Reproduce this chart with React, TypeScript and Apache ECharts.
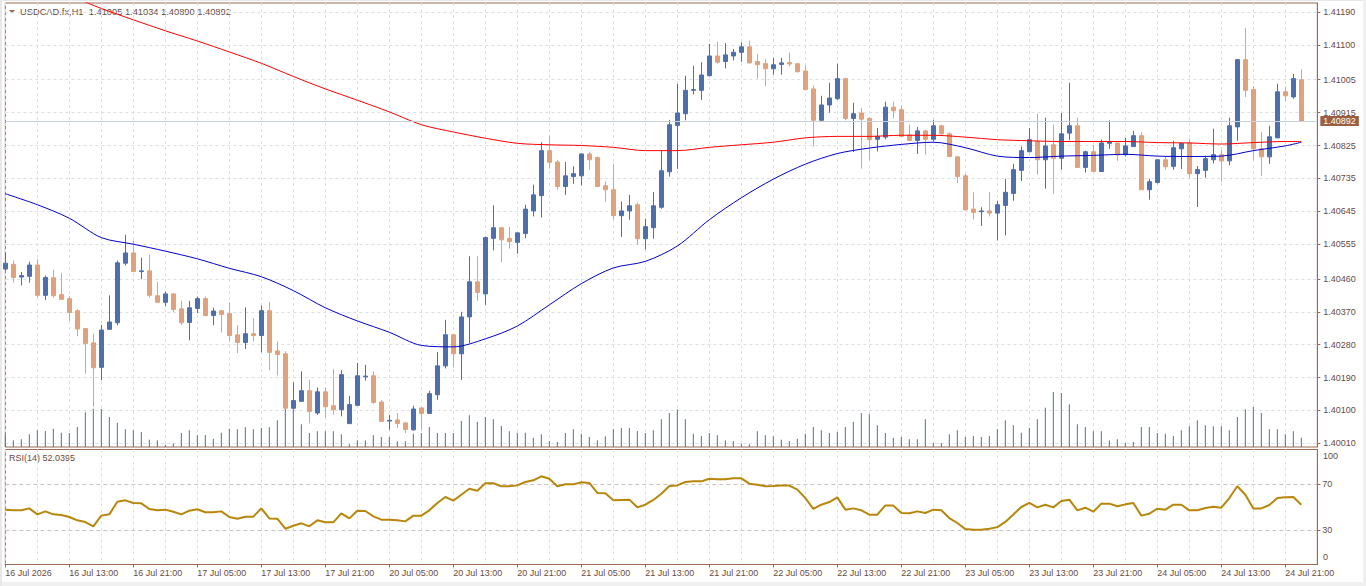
import React, { useEffect, useRef } from "react";
import * as echarts from "echarts";

// ---------- DATA ----------
const SYMBOL_TITLE = "USDCAD.fx,H1  1.41005 1.41034 1.40890 1.40892";
const RSI_TITLE = "RSI(14) 52.0395";
const BID = 1.40892;

const timeLabels = [
  "16 Jul 2026", "16 Jul 13:00", "16 Jul 21:00", "17 Jul 05:00", "17 Jul 13:00", "17 Jul 21:00",
  "20 Jul 05:00", "20 Jul 13:00", "20 Jul 21:00", "21 Jul 05:00", "21 Jul 13:00", "21 Jul 21:00",
  "22 Jul 05:00", "22 Jul 13:00", "22 Jul 21:00", "23 Jul 05:00", "23 Jul 13:00", "23 Jul 21:00",
  "24 Jul 05:00", "24 Jul 13:00", "24 Jul 21:00",
];

const priceTicks = [
  1.4001, 1.401, 1.4019, 1.4028, 1.4037, 1.4046, 1.40555, 1.40645, 1.40735, 1.40825,
  1.40915, 1.41005, 1.411, 1.4119,
];
const rsiTicks = [30, 70];

const openP = [
  1.40487, 1.405, 1.40465, 1.40467, 1.40498, 1.40415, 1.40463, 1.40417, 1.40406, 1.40373,
  1.40324, 1.40285, 1.40218, 1.40322, 1.4034, 1.40503, 1.40531, 1.4048, 1.40482, 1.40414,
  1.40396, 1.40419, 1.40378, 1.40341, 1.40379, 1.40406, 1.4036, 1.40373, 1.40365, 1.40307,
  1.40286, 1.4031, 1.40305, 1.40373, 1.40263, 1.40255, 1.40106, 1.40125, 1.40154, 1.40093,
  1.40151, 1.40113, 1.40102, 1.40064, 1.40114, 1.40192, 1.40195, 1.40123, 1.40071, 1.40074,
  1.40066, 1.40047, 1.40107, 1.40092, 1.40143, 1.40222, 1.40307, 1.40255, 1.40356, 1.40452,
  1.40419, 1.40571, 1.406, 1.40571, 1.4056, 1.40584, 1.40646, 1.40688, 1.40811, 1.4078,
  1.40713, 1.4074, 1.40742, 1.40802, 1.40792, 1.40715, 1.40704, 1.40633, 1.40646, 1.40663,
  1.4057, 1.406, 1.40656, 1.40753, 1.4088, 1.40912, 1.40976, 1.40976, 1.41016, 1.4107,
  1.41055, 1.4107, 1.4108, 1.41095, 1.41055, 1.41049, 1.41035, 1.41047, 1.41052, 1.41049,
  1.41029, 1.4098, 1.40894, 1.40936, 1.40953, 1.41008, 1.40899, 1.40914, 1.40899, 1.40842,
  1.40848, 1.4093, 1.40923, 1.40854, 1.40839, 1.40865, 1.40842, 1.40879, 1.40857, 1.40794,
  1.40742, 1.40651, 1.40644, 1.40646, 1.4064, 1.40661, 1.40694, 1.40757, 1.40808, 1.40836,
  1.40786, 1.40827, 1.4079, 1.40859, 1.40879, 1.40765, 1.40808, 1.40754, 1.40831, 1.40832,
  1.408, 1.40822, 1.40852, 1.40704, 1.40724, 1.40786, 1.40768, 1.40816, 1.40832, 1.40748,
  1.40757, 1.40786, 1.408, 1.40783, 1.40876, 1.4106, 1.40978, 1.40816, 1.40794, 1.40846,
  1.40972, 1.40958, 1.41005,
];

const highP = [
  1.40533, 1.4051, 1.40479, 1.40507, 1.40514, 1.40469, 1.40485, 1.40476, 1.40413, 1.40377,
  1.40325, 1.4031, 1.40334, 1.40415, 1.4051, 1.40581, 1.40565, 1.40518, 1.40526, 1.40452,
  1.40425, 1.40421, 1.404, 1.404, 1.40412, 1.40412, 1.40381, 1.40375, 1.40396, 1.40333,
  1.40382, 1.40353, 1.40387, 1.40397, 1.40289, 1.40262, 1.40177, 1.40207, 1.40184, 1.40163,
  1.40163, 1.40213, 1.4021, 1.4014, 1.4023, 1.40225, 1.40207, 1.40129, 1.40088, 1.40093,
  1.40068, 1.40113, 1.40109, 1.40154, 1.4026, 1.40348, 1.40308, 1.4037, 1.40522, 1.40522,
  1.40576, 1.40661, 1.40602, 1.40602, 1.40587, 1.40663, 1.40718, 1.40834, 1.40852, 1.40786,
  1.4078, 1.40768, 1.40803, 1.40807, 1.40795, 1.40727, 1.40775, 1.40672, 1.4069, 1.40669,
  1.40625, 1.40698, 1.40813, 1.40895, 1.40994, 1.41016, 1.41043, 1.41053, 1.41103, 1.41109,
  1.41105, 1.41089, 1.41107, 1.41112, 1.41076, 1.41062, 1.41065, 1.41065, 1.4108, 1.4105,
  1.41044, 1.40989, 1.40961, 1.40997, 1.41049, 1.4101, 1.40942, 1.40928, 1.40903, 1.40873,
  1.40945, 1.40945, 1.40934, 1.40882, 1.40876, 1.40868, 1.40895, 1.40882, 1.40861, 1.40795,
  1.40748, 1.40697, 1.40656, 1.40698, 1.40674, 1.40734, 1.40775, 1.40822, 1.40873, 1.40912,
  1.40901, 1.40882, 1.40914, 1.40997, 1.40901, 1.40811, 1.40827, 1.40841, 1.40894, 1.40833,
  1.40846, 1.40865, 1.40862, 1.40734, 1.40787, 1.40795, 1.40838, 1.40833, 1.40843, 1.40769,
  1.40797, 1.40871, 1.40813, 1.40901, 1.41062, 1.41147, 1.40988, 1.40862, 1.40879, 1.40994,
  1.40986, 1.41021, 1.41034,
];

const lowP = [
  1.40483, 1.4045, 1.40442, 1.4045, 1.4041, 1.40402, 1.40409, 1.40403, 1.40345, 1.40303,
  1.40201, 1.4011, 1.40183, 1.40321, 1.40333, 1.40497, 1.40479, 1.40459, 1.40409, 1.40395,
  1.40385, 1.40369, 1.40333, 1.40292, 1.40366, 1.40357, 1.40333, 1.40313, 1.40289, 1.40257,
  1.40268, 1.40289, 1.40259, 1.4021, 1.40196, 1.40105, 1.40105, 1.40124, 1.40065, 1.40088,
  1.40081, 1.40088, 1.40084, 1.40063, 1.40113, 1.40182, 1.40118, 1.40069, 1.40047, 1.40052,
  1.40038, 1.40045, 1.40047, 1.40091, 1.40129, 1.40215, 1.40218, 1.40184, 1.40284, 1.404,
  1.40389, 1.40538, 1.40505, 1.40543, 1.40529, 1.40571, 1.40631, 1.40628, 1.40762, 1.40704,
  1.4069, 1.4072, 1.40716, 1.40759, 1.40712, 1.40671, 1.40622, 1.40575, 1.40622, 1.40553,
  1.40541, 1.4057, 1.40652, 1.4074, 1.40761, 1.40894, 1.40965, 1.4095, 1.41015, 1.41049,
  1.41036, 1.41058, 1.41054, 1.4105, 1.41008, 1.40987, 1.41019, 1.41019, 1.41041, 1.41025,
  1.40976, 1.40822, 1.40893, 1.40915, 1.4095, 1.40894, 1.40807, 1.40762, 1.40786, 1.40809,
  1.40842, 1.40899, 1.40848, 1.40838, 1.40802, 1.408, 1.40836, 1.40855, 1.40793, 1.40722,
  1.40647, 1.40622, 1.40605, 1.40631, 1.40565, 1.40579, 1.40674, 1.40728, 1.40806, 1.40745,
  1.40707, 1.40693, 1.40759, 1.40839, 1.40764, 1.40751, 1.40753, 1.40753, 1.40816, 1.40783,
  1.40795, 1.40821, 1.40703, 1.40677, 1.40721, 1.40759, 1.40759, 1.40761, 1.40737, 1.40657,
  1.40737, 1.40776, 1.40726, 1.40771, 1.40838, 1.40958, 1.40786, 1.40742, 1.40775, 1.40845,
  1.40947, 1.40953, 1.4089,
];

const closeP = [
  1.40503, 1.40464, 1.40469, 1.40498, 1.40415, 1.40464, 1.40414, 1.40404, 1.40368, 1.40323,
  1.40283, 1.40217, 1.4032, 1.40342, 1.40504, 1.40531, 1.4048, 1.40482, 1.40415, 1.40396,
  1.40419, 1.40376, 1.4034, 1.40381, 1.40406, 1.4036, 1.40372, 1.40363, 1.40305, 1.40286,
  1.4031, 1.40305, 1.40373, 1.40259, 1.40253, 1.40106, 1.40127, 1.40154, 1.40097, 1.40151,
  1.4011, 1.40102, 1.40198, 1.40116, 1.40195, 1.40194, 1.40122, 1.4007, 1.40073, 1.40064,
  1.40048, 1.40104, 1.40092, 1.40146, 1.40222, 1.40307, 1.40255, 1.40356, 1.40452, 1.40423,
  1.40573, 1.406, 1.40567, 1.40562, 1.40586, 1.40651, 1.4069, 1.40811, 1.40779, 1.40713,
  1.40742, 1.40748, 1.40802, 1.40786, 1.40713, 1.40704, 1.40633, 1.40646, 1.4066, 1.4057,
  1.40603, 1.4066, 1.40756, 1.40882, 1.40914, 1.40976, 1.40978, 1.41018, 1.4107, 1.41053,
  1.41073, 1.4108, 1.41095, 1.41051, 1.41046, 1.41035, 1.41046, 1.41051, 1.41048, 1.41027,
  1.40978, 1.40894, 1.40936, 1.40955, 1.41008, 1.40899, 1.40912, 1.40897, 1.40841, 1.4085,
  1.4093, 1.4092, 1.4085, 1.40839, 1.40865, 1.40842, 1.40879, 1.40857, 1.40795, 1.4074,
  1.40649, 1.40642, 1.40646, 1.4064, 1.40663, 1.40697, 1.40759, 1.40811, 1.40841, 1.40786,
  1.40824, 1.4079, 1.40857, 1.40879, 1.40765, 1.40808, 1.40754, 1.40832, 1.40835, 1.40799,
  1.40824, 1.40852, 1.40704, 1.40726, 1.40786, 1.40767, 1.40819, 1.40831, 1.40748, 1.40759,
  1.40789, 1.408, 1.40783, 1.40879, 1.4106, 1.40976, 1.40816, 1.40794, 1.40849, 1.40972,
  1.40961, 1.41008, 1.40892,
];

const tickVolume = [
  370, 200, 230, 380, 500, 480, 550, 430, 420, 600,
  1040, 1150, 1140, 900, 730, 530, 500, 450, 220, 200,
  70, 110, 420, 500, 350, 360, 250, 430, 550, 530,
  590, 530, 570, 590, 800, 1150, 1150, 680, 420, 470,
  470, 470, 380, 80, 200, 200, 350, 300, 300, 170,
  170, 400, 420, 600, 420, 420, 420, 780, 950, 750,
  900, 830, 630, 470, 430, 430, 270, 380, 180, 150,
  420, 530, 400, 300, 200, 320, 530, 570, 570, 480,
  420, 500, 830, 1020, 1130, 830, 400, 330, 420, 350,
  200, 180, 100, 80, 470, 350, 320, 220, 180, 250,
  400, 600, 500, 420, 450, 600, 750, 1020, 980, 650,
  420, 270, 300, 230, 230, 830, 120, 120, 380, 500,
  300, 330, 300, 330, 530, 800, 650, 430, 570, 830,
  1180, 1650, 1620, 1280, 680, 600, 470, 470, 200, 230,
  120, 150, 600, 600, 420, 400, 330, 500, 620, 800,
  650, 620, 620, 500, 900, 1130, 1200, 1020, 530, 530,
  380, 470, 280,
];

const rsi14 = [
  47.7, 47.1, 47.1, 48.8, 43.6, 46.2, 43.6, 43.0, 41.3, 38.4,
  36.9, 33.2, 42.5, 43.6, 54.6, 55.8, 53.5, 53.2, 48.3, 47.1,
  47.7, 45.9, 43.6, 46.8, 48.0, 45.4, 45.4, 46.2, 41.3, 39.8,
  41.6, 41.6, 48.8, 40.1, 39.8, 31.1, 33.7, 35.8, 33.2, 38.4,
  36.7, 36.7, 44.5, 40.1, 46.8, 46.5, 41.9, 39.0, 39.0, 38.4,
  37.5, 42.5, 42.5, 47.1, 53.5, 58.7, 55.5, 60.7, 65.9, 64.2,
  70.6, 70.6, 68.0, 68.0, 68.8, 71.7, 73.2, 76.7, 74.6, 68.0,
  69.7, 69.7, 71.5, 70.9, 62.2, 61.9, 55.8, 56.1, 56.4, 49.7,
  52.0, 56.1, 61.6, 68.3, 68.8, 71.7, 72.3, 72.3, 74.6, 74.1,
  74.1, 74.9, 74.9, 70.3, 69.4, 68.0, 68.3, 68.8, 68.6, 65.1,
  57.8, 48.3, 52.0, 54.3, 58.4, 47.7, 48.8, 47.1, 43.3, 43.3,
  51.4, 51.2, 44.8, 44.5, 46.2, 44.8, 47.7, 47.1, 40.4, 36.1,
  30.8, 30.3, 30.3, 31.1, 32.5, 37.0, 43.5, 50.0, 53.5, 49.7,
  52.0, 49.7, 55.2, 56.4, 47.1, 49.4, 45.9, 52.9, 52.9, 50.6,
  52.3, 53.5, 42.5, 44.2, 48.5, 47.7, 52.0, 52.0, 47.1, 47.1,
  49.1, 50.3, 49.4, 57.8, 68.0, 60.7, 48.8, 48.8, 51.7, 57.8,
  58.4, 58.7, 52.0395,
];

// moving averages, read at every 4th bar
const maBars = [
  0, 4, 8, 12, 16, 20, 24, 28, 32, 36, 40, 44, 48, 52, 56, 60, 64, 68, 72, 76, 80,
  84, 88, 92, 96, 100, 104, 108, 112, 116, 120, 124, 128, 132, 136, 140, 144, 148, 152, 156, 160, 162,
];
const maRed = [
  1.41295, 1.41265, 1.41235, 1.412, 1.41169, 1.41139, 1.41111, 1.41081, 1.4105, 1.41014, 1.4098,
  1.40949, 1.40917, 1.40882, 1.40862, 1.40845, 1.40831, 1.40827, 1.40825, 1.4082, 1.40811,
  1.40811, 1.4082, 1.40827, 1.40834, 1.40846, 1.4085, 1.4085, 1.40853, 1.40853, 1.40848,
  1.40841, 1.40838, 1.40836, 1.40836, 1.40836, 1.40833, 1.40832, 1.40829, 1.40833, 1.40836, 1.40836,
];
const maBlue = [
  1.40693, 1.40663, 1.40626, 1.40573, 1.40555, 1.40536, 1.40515, 1.40489, 1.40466, 1.40428, 1.40381,
  1.40345, 1.40314, 1.40278, 1.40274, 1.40296, 1.40331, 1.40389, 1.40447, 1.4049, 1.40508,
  1.4055, 1.40622, 1.40682, 1.40733, 1.40774, 1.40803, 1.40818, 1.40828, 1.40834, 1.40819,
  1.40796, 1.40792, 1.40796, 1.40798, 1.40801, 1.40796, 1.40795, 1.40796, 1.40811, 1.40824, 1.40834,
];

// ---------- STYLE ----------
const FONT = "'Liberation Sans', Arial, sans-serif";
const TEXT = "#6a4a40";
const FRAME = "#9a6a55";
const GRIDC = "#d8e0ea";
const BULL = "#4e6eac";
const BEAR = "#dfa27c";
const SHIFT = 2;

export default function App() {
  const ref = useRef<HTMLDivElement>(null);

  useEffect(() => {
    if (!ref.current) return;
    const chart = echarts.init(ref.current, undefined, { renderer: "svg" });
    const n = openP.length;
    const cats = Array.from({ length: n + SHIFT }, (_, i) => String(i));
    const candles = openP.map((o, i) => [o, closeP[i], lowP[i], highP[i]]);
    const every8 = (i: number) => i % 8 === 0;
    const every4 = (i: number) => i % 4 === 0;
    const labelStyle = { color: TEXT, fontSize: 9, fontFamily: FONT };

    chart.setOption({
      animation: false,
      backgroundColor: "#ffffff",
      grid: [
        { left: 5.33, top: 3, width: 1312, height: 444, show: true, borderColor: FRAME, borderWidth: 1, backgroundColor: "#fff" },
        { left: 5.33, top: 449.5, width: 1312, height: 115, show: true, borderColor: FRAME, borderWidth: 1, backgroundColor: "#fff" },
      ],
      xAxis: [
        {
          type: "category", gridIndex: 0, data: cats, boundaryGap: false,
          axisLine: { show: false }, axisTick: { show: false }, axisLabel: { show: false },
          splitLine: { show: true, interval: every4, lineStyle: { color: GRIDC, type: [3, 3], width: 1 } },
        },
        {
          type: "category", gridIndex: 1, data: cats, boundaryGap: false,
          axisLine: { show: true, lineStyle: { color: FRAME } },
          axisTick: { show: true, interval: every8, length: 3, lineStyle: { color: FRAME } },
          axisLabel: {
            ...labelStyle, interval: every8, align: "left", margin: 4,
            formatter: (_v: string, idx: number) => (idx % 8 === 0 ? timeLabels[idx / 8] ?? "" : ""),
          },
          splitLine: { show: true, interval: every4, lineStyle: { color: GRIDC, type: [3, 3], width: 1 } },
        },
      ],
      yAxis: [
        {
          type: "value", gridIndex: 0, position: "right", min: 1.4, max: 1.41215, scale: true,
          axisLine: { show: true, lineStyle: { color: FRAME } },
          axisTick: { show: true, customValues: priceTicks, length: 3, lineStyle: { color: FRAME } },
          axisLabel: { ...labelStyle, customValues: priceTicks, margin: 6, formatter: (v: number) => v.toFixed(5) },
          splitLine: { show: true, lineStyle: { color: GRIDC, type: [3, 3], width: 1 } },
        },
        { type: "value", gridIndex: 0, min: 0, max: 13320, show: false, splitLine: { show: false } },
        {
          type: "value", gridIndex: 1, position: "right", min: 0, max: 100,
          axisLine: { show: true, lineStyle: { color: FRAME } },
          axisTick: { show: true, customValues: rsiTicks, length: 3, lineStyle: { color: FRAME } },
          axisLabel: { ...labelStyle, customValues: rsiTicks, margin: 5, formatter: (v: number) => String(v) },
          splitLine: { show: true, lineStyle: { color: "#c4c4c4", type: [4, 3], width: 1 } },
        },
      ],
      series: [
        {
          type: "bar", xAxisIndex: 0, yAxisIndex: 1, data: tickVolume, barWidth: 1,
          itemStyle: { color: BULL }, z: 1, silent: true,
        },
        {
          type: "candlestick", xAxisIndex: 0, yAxisIndex: 0, data: candles, barWidth: 4,
          itemStyle: { color: BULL, color0: BEAR, borderColor: BULL, borderColor0: BEAR, borderWidth: 1 },
          z: 2, silent: true,
          markLine: {
            silent: true, symbol: ["none", "none"], animation: false, precision: 5,
            data: [
              {
                yAxis: BID,
                lineStyle: { color: "#c9d2dc", type: "solid", width: 1 },
                label: {
                  show: true, position: "end", distance: 3, formatter: BID.toFixed(5),
                  color: "#ffffff", backgroundColor: "#9a5f40", padding: [1, 3, 0, 3],
                  fontSize: 9, fontFamily: FONT,
                },
              },
            ],
          },
        },
        {
          type: "line", xAxisIndex: 0, yAxisIndex: 0, showSymbol: false, silent: true, z: 3,
          data: maBars.map((b, k) => [b, maRed[k]]), smooth: 0.3,
          lineStyle: { color: "#ff0000", width: 1 },
        },
        {
          type: "line", xAxisIndex: 0, yAxisIndex: 0, showSymbol: false, silent: true, z: 3,
          data: maBars.map((b, k) => [b, maBlue[k]]), smooth: 0.3,
          lineStyle: { color: "#0000cc", width: 1 },
        },
        {
          type: "line", xAxisIndex: 1, yAxisIndex: 2, showSymbol: false, silent: true,
          data: rsi14, lineStyle: { color: "#b8860b", width: 2 },
        },
      ],
      graphic: [
        { type: "rect", shape: { x: 0, y: 0, width: 1366, height: 1 }, style: { fill: "#e8e8e8" }, silent: true },
        { type: "rect", shape: { x: 1363, y: 0, width: 3, height: 586 }, style: { fill: "#f0f0f0" }, silent: true },
        { type: "rect", shape: { x: 0, y: 582, width: 1366, height: 4 }, style: { fill: "#f0f0f0" }, silent: true },
        { type: "rect", shape: { x: 0, y: 0, width: 2, height: 586 }, style: { fill: "#e8e8e8" }, silent: true },
        { type: "polygon", shape: { points: [[9, 10], [15, 10], [12, 13.5]] }, style: { fill: FRAME }, silent: true },
        { type: "text", left: 20, top: 7, silent: true, style: { text: SYMBOL_TITLE, fill: TEXT, font: `9.3px ${FONT}` } },
        { type: "text", left: 9, top: 453, silent: true, style: { text: RSI_TITLE, fill: TEXT, font: `9px ${FONT}` } },
        { type: "text", left: 1323, top: 451, silent: true, style: { text: "100", fill: TEXT, font: `9px ${FONT}` } },
        { type: "text", left: 1323, top: 552, silent: true, style: { text: "0", fill: TEXT, font: `9px ${FONT}` } },
      ],
    });

    return () => chart.dispose();
  }, []);

  return (
    <div
      ref={ref}
      style={{ position: "fixed", left: 0, top: 0, width: 1366, height: 586, background: "#fff" }}
    />
  );
}
